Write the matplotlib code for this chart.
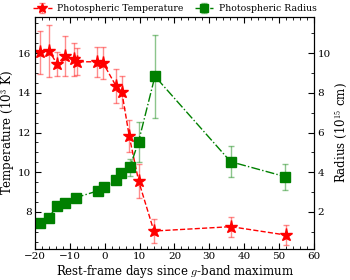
import numpy as np
import matplotlib
matplotlib.use("Agg")
import matplotlib.pyplot as plt
from matplotlib.ticker import AutoMinorLocator, MultipleLocator

plt.rcParams['font.family'] = ['DejaVu Serif']
plt.rcParams['mathtext.fontset'] = 'cm'

# temperature (10^3 K)
temp_days = [-18.6, -16.0, -13.6, -11.4, -8.8, -7.9, -2.1, -0.4, 3.2, 4.9, 7.0, 9.7, 14.1, 36.2, 51.9]
temp = [16.03, 16.11, 15.44, 15.86, 15.68, 15.56, 15.56, 15.48, 14.35, 14.05, 11.84, 9.57, 7.04, 7.26, 6.84]
temp_err = [1.1, 1.32, 0.62, 1.0, 0.85, 0.68, 0.76, 0.8, 0.85, 0.8, 0.8, 0.85, 0.6, 0.5, 0.5]

# radius (10^15 cm)
rad_days = [-18.6, -16.1, -13.6, -11.3, -8.3, -1.85, -0.2, 3.2, 4.6, 7.2, 9.7, 14.4, 36.1, 51.7]
rad = [1.46, 1.71, 2.32, 2.44, 2.72, 3.07, 3.24, 3.61, 3.94, 4.25, 5.54, 8.83, 4.53, 3.78]
rad_err = [0.1, 0.1, 0.1, 0.1, 0.12, 0.12, 0.12, 0.15, 0.15, 0.42, 1.0, 2.1, 0.78, 0.65]

fig = plt.figure(figsize=(3.5, 2.8), dpi=100)
ax = fig.add_axes([0.1, 0.111, 0.797, 0.828])
ax2 = ax.twinx()

h1 = ax.errorbar(temp_days, temp, yerr=temp_err, fmt='*--', color='red', ms=9.5,
                 lw=1, ecolor=(1, 0, 0, 0.45), elinewidth=1, capsize=2, capthick=1,
                 label='Photospheric Temperature')
h2 = ax2.errorbar(rad_days, rad, yerr=rad_err, fmt='s-.', color='green', ms=6.5,
                  lw=1, ecolor=(0, 0.5, 0, 0.45), elinewidth=1, capsize=2, capthick=1,
                  label='Photospheric Radius')

ax.set_xlim(-20, 60)
ax.set_ylim(6.14, 17.81)
ax2.set_ylim(0.14, 11.81)

ax.set_xlabel('Rest-frame days since $g$-band maximum', fontsize=8.5, labelpad=1)
ax.set_ylabel('Temperature (10$^3$ K)', fontsize=8.5, labelpad=1)
ax2.set_ylabel('Radius (10$^{15}$ cm)', fontsize=8.5, labelpad=2)

ax.xaxis.set_minor_locator(AutoMinorLocator())
ax.yaxis.set_major_locator(MultipleLocator(2))
ax.yaxis.set_minor_locator(AutoMinorLocator())
ax2.yaxis.set_major_locator(MultipleLocator(2))
ax2.yaxis.set_minor_locator(MultipleLocator(1))

ax.tick_params(which='both', direction='in', top=True, right=False, labelsize=7.5, pad=2.5)
ax.tick_params(which='major', length=4)
ax.tick_params(which='minor', length=2)
ax2.tick_params(which='both', direction='in', labelsize=7.5, pad=2.5)
ax2.tick_params(which='major', length=4)
ax2.tick_params(which='minor', length=2)

fig.legend([h1, h2], ['Photospheric Temperature', 'Photospheric Radius'],
           loc='upper center', bbox_to_anchor=(0.5, 1.015), ncol=2, frameon=False,
           fontsize=6.7, handlelength=2.0, columnspacing=1.2, handletextpad=0.6,
           markerscale=0.8)

fig.savefig('out.png', dpi=100)
